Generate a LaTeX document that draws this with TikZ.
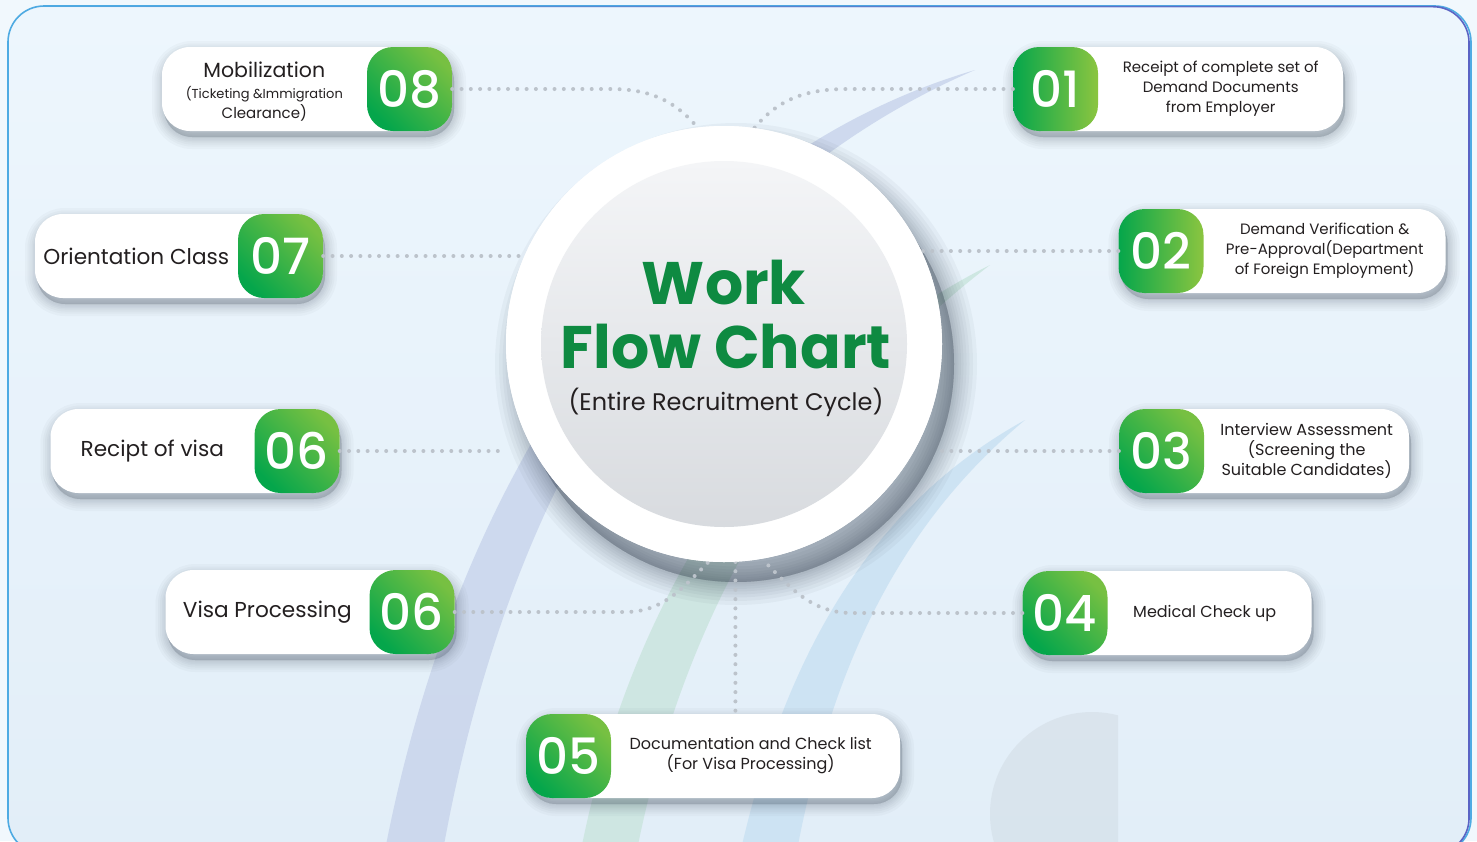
\documentclass[tikz,border=0pt]{standalone}
\usepackage{fontspec}
\setmainfont{Poppins}
\newfontfamily\popmed{Poppins Medium}
\usetikzlibrary{positioning,calc,fadings}

\definecolor{pagebg}{HTML}{F1F8FD}
\definecolor{bgtop}{HTML}{EDF6FD}
\definecolor{bgbot}{HTML}{E2EEF8}
\definecolor{frameA}{HTML}{4EABE3}
\definecolor{frameB}{HTML}{5A63C4}
\definecolor{arcblue}{HTML}{C9D5EC}
\definecolor{arcgreen}{HTML}{CCE6E0}
\definecolor{arcsky}{HTML}{CBE2F3}
\definecolor{dotgray}{HTML}{BCC3CB}
\definecolor{gdark}{HTML}{05A64B}
\definecolor{glight}{HTML}{8BC540}
\definecolor{titlegreen}{HTML}{0E8A41}
\definecolor{ink}{HTML}{231F20}
\definecolor{hubtop}{HTML}{F4F5F7}
\definecolor{hubbot}{HTML}{D8DBDF}
\definecolor{shade}{HTML}{2E3A4A}

\tikzfading[name=fadeleft, left color=transparent!100, right color=transparent!0]

\tikzset{
  % soft shadow built from a few wide, faint strokes
  softshade/.style={preaction={draw=shade, fill=shade, line width=#1, opacity=.03,
    transform canvas={xshift=2pt, yshift=-6pt}}},
  hubshade/.style={preaction={draw=shade, fill=shade, line width=#1, opacity=.045,
    transform canvas={xshift=12pt, yshift=-20pt}}},
  card/.style={fill=white, rounded corners=28pt, minimum height=84pt, inner sep=0pt,
    softshade/.list={24pt,19pt,15pt,11pt,8pt,5pt,2pt}},
  numbox/.style={rounded corners=26pt, minimum width=85pt, minimum height=84pt,
    inner sep=0pt, text=white, font=\popmed\fontsize{50}{50}\selectfont},
  gflat/.style={left color=gdark, right color=glight},
  gtilt/.style={left color=gdark, right color=glight!85!gdark, shading angle=135},
  label/.style={align=center, text=ink, font=\fontsize{15}{20}\selectfont},
  wide/.style={align=center, text=ink, font=\fontsize{16}{20}\selectfont},
  biglabel/.style={text=ink, font=\fontsize{21.6}{24}\selectfont},
  dotline/.style={draw=dotgray, line width=4pt, line cap=round, dash pattern=on 0pt off 9.3pt}
}

\begin{document}
\begin{tikzpicture}[x=1pt, y=1pt]
\useasboundingbox (0,0) rectangle (1477,-841);
\begin{scope}
  \clip (0,0) rectangle (1477,-841);
  \fill[pagebg] (0,0) rectangle (1477,-841);

  % panel and its outline
  \fill[top color=bgtop, bottom color=bgbot, rounded corners=36pt] (8,-6) rectangle (1471,-854);
  \draw[frameA, line width=1.6pt, rounded corners=36pt] (8,-6) rectangle (1471,-854);
  \draw[frameB, line width=1.6pt, rounded corners=36pt, path fading=fadeleft] (8,-6) rectangle (1471,-854);

  % swooshes behind everything
  \fill[arcblue, opacity=.85] (386,-845) .. controls (470,-420) and (700,-150) .. (975,-70)
     .. controls (720,-180) and (520,-430) .. (444,-845) -- cycle;
  \fill[arcgreen, opacity=.9] (582,-845) .. controls (640,-560) and (800,-360) .. (990,-265)
     .. controls (820,-395) and (690,-590) .. (638,-845) -- cycle;
  \fill[arcsky, opacity=.9] (742,-845) .. controls (790,-640) and (880,-500) .. (1025,-420)
     .. controls (905,-520) and (835,-655) .. (798,-845) -- cycle;
  \begin{scope}
    \clip (900,-650) rectangle (1118,-841);
    \fill[gray!30!bgbot, opacity=.3] (1092,-814) circle (102);
  \end{scope}
\end{scope}

% hub
\node[circle, fill=white, minimum size=436pt, inner sep=0pt,
  hubshade/.list={46pt,38pt,31pt,25pt,19pt,14pt,9pt,5pt,1pt}] (hub) at (724,-344) {};

% step cards (white part first, number on top)
\node[card, minimum width=290pt] (c08) at (307,-89) {};
\node[numbox, gtilt, anchor=east] (n08) at (c08.east) {08};
\node[card, minimum width=330pt] (c01) at (1178,-89) {};
\node[numbox, gflat, anchor=west] (n01) at (c01.west) {01};
\node[card, minimum width=288pt] (c07) at (179,-256) {};
\node[numbox, gtilt, anchor=east] (n07) at (c07.east) {07};
\node[card, minimum width=327pt] (c02) at (1282,-251) {};
\node[numbox, gflat, anchor=west] (n02) at (c02.west) {02};
\node[card, minimum width=289pt] (c06a) at (195,-451) {};
\node[numbox, gtilt, anchor=east] (n06a) at (c06a.east) {06};
\node[card, minimum width=290pt] (c03) at (1264,-451) {};
\node[numbox, gtilt, anchor=west] (n03) at (c03.west) {03};
\node[card, minimum width=289pt] (c06b) at (310,-612) {};
\node[numbox, gtilt, anchor=east] (n06b) at (c06b.east) {06};
\node[card, minimum width=289pt] (c04) at (1167,-613) {};
\node[numbox, gtilt, anchor=west] (n04) at (c04.west) {04};
\node[card, minimum width=374pt] (c05) at (713,-756) {};
\node[numbox, gtilt, anchor=west] (n05) at (c05.west) {05};

% dotted links into the hub
\draw[dotline] (n08.east) -- ++(158,0) to[out=0, in=130] (hub.97);
\draw[dotline] (n01.west) -- ++(-165,0) to[out=180, in=50] (hub.82);
\draw[dotline] (n07.east) -- (n07.east -| hub.156);
\draw[dotline] (n02.west) -- (n02.west -| hub.28);
\draw[dotline] (n06a.east) -- (n06a.east -| hub.182);
\draw[dotline] (n03.west) -- (n03.west -| hub.358);
\draw[dotline] (n06b.east) -- ++(170,0) to[out=0, in=-135] (hub.266);
\draw[dotline] (n04.west) -- ++(-170,0) to[out=180, in=-45] (hub.280);
\draw[dotline] (hub.273) -- (hub.273 |- n05.north);

% redraw hub face over the link ends
\node[circle, fill=white, minimum size=436pt, inner sep=0pt] (face) at (hub.center) {};
\node[circle, minimum size=366pt, top color=hubtop, bottom color=hubbot] (core) at (hub.center) {};
\node[anchor=base, text=titlegreen, font=\bfseries\fontsize{60}{64}\selectfont] (work) at (724,-304) {Work};
\node[anchor=base, text=titlegreen, font=\bfseries\fontsize{60}{64}\selectfont] (flow) at (726,-368) {Flow Chart};
\node[anchor=base, text=ink, font=\fontsize{24}{28}\selectfont] (cycle) at (726,-410) {(Entire Recruitment Cycle)};

% card texts
\node[label, yshift=-3pt] (t08) at ($(c08.west)!0.5!(n08.west)$)
  {{\fontsize{20.5}{22}\selectfont Mobilization}\\[1pt]
   \fontsize{13}{20.5}\selectfont (Ticketing \&Immigration\\Clearance)};
\node[label] (t01) at ($(n01.east)!0.5!(c01.east)$)
  {Receipt of complete set of\\Demand Documents\\from Employer};
\node[biglabel] (t07) at ($(c07.west)!0.5!(n07.west)$) {Orientation Class};
\node[label] (t02) at ($(n02.east)!0.5!(c02.east)$)
  {Demand Verification \&\\Pre-Approval(Department\\of Foreign Employment)};
\node[biglabel] (t06a) at ($(c06a.west)!0.5!(n06a.west)$) {Recipt of visa};
\node[wide] (t03) at ($(n03.east)!0.5!(c03.east)$)
  {Interview Assessment\\(Screening the\\Suitable Candidates)};
\node[biglabel] (t06b) at ($(c06b.west)!0.5!(n06b.west)$) {Visa Processing};
\node[wide, xshift=-5pt] (t04) at ($(n04.east)!0.5!(c04.east)$) {Medical Check up};
\node[wide, xshift=-5pt] (t05) at ($(n05.east)!0.5!(c05.east)$)
  {Documentation and Check list\\(For Visa Processing)};
\end{tikzpicture}
\end{document}
